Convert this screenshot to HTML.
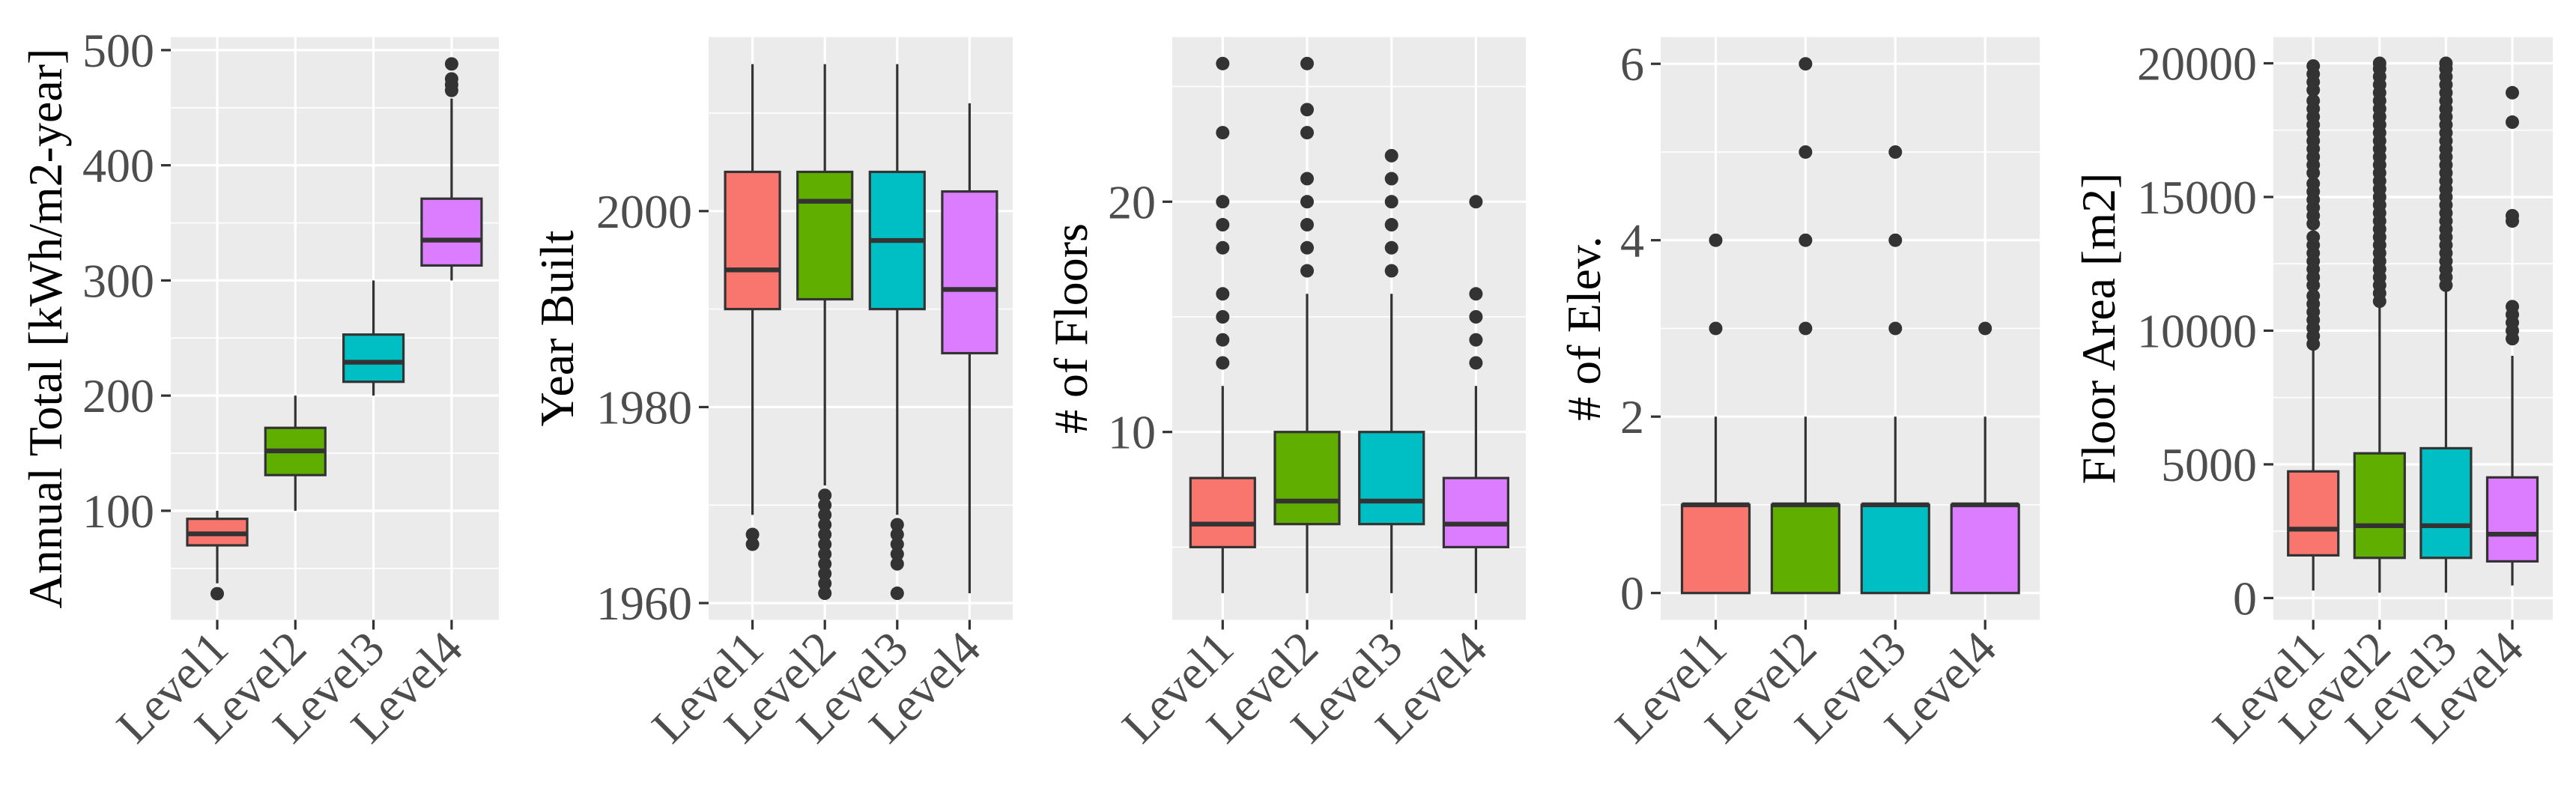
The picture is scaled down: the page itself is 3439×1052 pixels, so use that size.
<!DOCTYPE html>
<html><head><meta charset="utf-8">
<style>
html,body{margin:0;padding:0;background:#fff;}
svg{display:block;}
</style></head>
<body>
<svg id="chart" width="3439" height="1052" viewBox="0 0 3439 1052" xmlns="http://www.w3.org/2000/svg"></svg>
<script>
const categories = ["Level1","Level2","Level3","Level4"];
const fills = ["#F8766D","#5FAE00","#00BFC4","#DC7CFF"];

// Panel 1: Annual Total
const energyStats = [
  {lo:37, q1:70, med:80, q3:93, hi:100},
  {lo:100, q1:131, med:152, q3:172, hi:200},
  {lo:200, q1:212, med:229, q3:253, hi:300},
  {lo:300, q1:313, med:335, q3:371, hi:458}
];
const energyOutliers = [[28],[],[],[465,470,475,488]];
const energyTicks = [100,200,300,400,500];

// Panel 2: Year Built
const yearStats = [
  {lo:1969, q1:1990, med:1994, q3:2004, hi:2015},
  {lo:1972, q1:1991, med:2001, q3:2004, hi:2015},
  {lo:1969, q1:1990, med:1997, q3:2004, hi:2015},
  {lo:1961, q1:1985.5, med:1992, q3:2002, hi:2011}
];
const yearOutliers = [[1966,1967],[1961,1962,1963,1964,1965,1966,1967,1968,1969,1970,1971],[1961,1964,1965,1966,1967,1968],[]];
const yearTicks = [1960,1980,2000];

// Panel 3: Floors
const floorStats = [
  {lo:3, q1:5, med:6, q3:8, hi:12},
  {lo:3, q1:6, med:7, q3:10, hi:16},
  {lo:3, q1:6, med:7, q3:10, hi:16},
  {lo:3, q1:5, med:6, q3:8, hi:12}
];
const floorOutliers = [[13,14,15,16,18,19,20,23,26],[17,18,19,20,21,23,24,26],[17,18,19,20,21,22],[13,14,15,16,20]];
const floorTicks = [10,20];

// Panel 4: Elevators
const elevStats = [
  {lo:0, q1:0, med:1, q3:1, hi:2},
  {lo:0, q1:0, med:1, q3:1, hi:2},
  {lo:0, q1:0, med:1, q3:1, hi:2},
  {lo:0, q1:0, med:1, q3:1, hi:2}
];
const elevOutliers = [[3,4],[3,4,5,6],[3,4,5],[3]];
const elevTicks = [0,2,4,6];

// Panel 5: Floor Area
const areaStats = [
  {lo:281, q1:1597, med:2575, q3:4737, hi:9400},
  {lo:200, q1:1503, med:2706, q3:5413, hi:11090},
  {lo:200, q1:1503, med:2706, q3:5603, hi:11654},
  {lo:469, q1:1372, med:2387, q3:4512, hi:9060}
];
const areaOutliers = [
  [9500,9800,10100,10400,10700,11000,11300,11700,12000,12300,12600,12900,13200,13500,14000,14300,14600,14900,15200,15500,15900,16200,16500,16800,17100,17400,17700,18000,18300,18600,19000,19300,19600,19900],
  [11100,11400,11700,12000,12300,12600,12900,13200,13500,13800,14100,14400,14700,15000,15300,15600,15900,16200,16500,16800,17100,17400,17700,18000,18300,18600,18900,19200,19500,19800,20000],
  [11700,12000,12300,12600,12900,13200,13500,13800,14100,14400,14700,15000,15300,15600,15900,16200,16500,16800,17100,17400,17700,18000,18300,18600,18900,19200,19500,19800,20000],
  [9700,10000,10300,10600,10900,14100,14300,17800,18900]
];
const areaTicks = [0,5000,10000,15000,20000];

const panels = [
  {name:"annual-total", title:"Annual Total [kWh/m2-year]", stats:energyStats, out:energyOutliers, ticks:energyTicks,
   minor:[50,150,250,350,450], x0:228, x1:666, v0:100, p0:681.9, v1:500, p1:66.9, cx:290, step:104.3, bw:80, tx:60},
  {name:"year-built", title:"Year Built", stats:yearStats, out:yearOutliers, ticks:yearTicks,
   minor:[1970,1990,2010], x0:946, x1:1352, v0:1960, p0:805.1, v1:2000, p1:281.8, cx:1004.6, step:96.6, bw:73, tx:743},
  {name:"num-floors", title:"# of Floors", stats:floorStats, out:floorOutliers, ticks:floorTicks,
   minor:[5,15,25], x0:1565, x1:2037, v0:10, p0:576.7, v1:20, p1:269.3, cx:1632.3, step:112.7, bw:86, tx:1429},
  {name:"num-elevators", title:"# of Elev.", stats:elevStats, out:elevOutliers, ticks:elevTicks,
   minor:[1,3,5], x0:2217, x1:2723, v0:0, p0:791.7, v1:6, p1:85.2, cx:2290.5, step:119.9, bw:90, tx:2114},
  {name:"floor-area", title:"Floor Area [m2]", stats:areaStats, out:areaOutliers, ticks:areaTicks,
   minor:[2500,7500,12500,17500], x0:3035, x1:3408, v0:0, p0:798.4, v1:20000, p1:84.5, cx:3088.2, step:88.6, bw:67, tx:2801}
];
const TOP = 49.5, BOT = 827.5;
const NS = "http://www.w3.org/2000/svg";
const svg = document.getElementById("chart");
function mk(tag, attrs, parent){
  const e = document.createElementNS(NS, tag);
  for (const k in attrs) e.setAttribute(k, attrs[k]);
  (parent||svg).appendChild(e);
  return e;
}
panels.forEach(function(P){
  const g = mk("g", {});
  
  
  const y = v => P.p0 + (v - P.v0) * (P.p1 - P.p0) / (P.v1 - P.v0);
  const xc = i => P.cx + i * P.step;
  const bg = mk("rect", {x:P.x0, y:TOP, width:P.x1-P.x0, height:BOT-TOP, fill:"#EBEBEB"}, g);
  
  
  P.minor.forEach(function(v){
    const l = mk("line", {x1:P.x0, x2:P.x1, y1:y(v), y2:y(v), stroke:"#fff", "stroke-width":1.6}, g);
    
    
  });
  P.ticks.forEach(function(v){
    const l = mk("line", {x1:P.x0, x2:P.x1, y1:y(v), y2:y(v), stroke:"#fff", "stroke-width":3.2}, g);
    
    
    const t = mk("line", {x1:P.x0-13, x2:P.x0, y1:y(v), y2:y(v), stroke:"#333", "stroke-width":3.2}, g);
    
    
    const lab = mk("text", {x:P.x0-22, y:y(v)+22, "text-anchor":"end", "font-family":"Liberation Serif, serif", "font-size":64, fill:"#4D4D4D"}, g);
    lab.textContent = v;
    
    
  });
  categories.forEach(function(c, i){
    const l = mk("line", {x1:xc(i), x2:xc(i), y1:TOP, y2:BOT, stroke:"#fff", "stroke-width":3.2}, g);
    
    
    const t = mk("line", {x1:xc(i), x2:xc(i), y1:BOT, y2:BOT+13, stroke:"#333", "stroke-width":3.2}, g);
    
    
    const lab = mk("text", {x:0, y:0, "text-anchor":"end", "font-family":"Liberation Serif, serif", "font-size":64, fill:"#4D4D4D",
      transform:"translate(" + (xc(i)+18) + "," + (BOT+42) + ") rotate(-45)"}, g);
    lab.textContent = c;
    
    
  });
  P.stats.forEach(function(s, i){
    const x = xc(i), hw = P.bw/2;
    const w1 = mk("line", {x1:x, x2:x, y1:y(s.hi), y2:y(s.q3), stroke:"#333", "stroke-width":3.2}, g);
    
    
    const w2 = mk("line", {x1:x, x2:x, y1:y(s.q1), y2:y(s.lo), stroke:"#333", "stroke-width":3.2}, g);
    
    
    const b = mk("rect", {x:x-hw, y:y(s.q3), width:P.bw, height:Math.max(0.1, y(s.q1)-y(s.q3)), fill:fills[i], stroke:"#333", "stroke-width":3.2}, g);
    
    
    const m = mk("line", {x1:x-hw, x2:x+hw, y1:y(s.med), y2:y(s.med), stroke:"#333", "stroke-width":6.4}, g);
    
    
    P.out[i].forEach(function(v){
      const o = mk("circle", {cx:x, cy:y(v), r:9, fill:"#333"}, g);
      
      
    });
  });
  const tt = mk("text", {x:0, y:0, "text-anchor":"middle", "font-family":"Liberation Serif, serif", "font-size":64, fill:"#000",
    transform:"translate(" + (P.tx+22) + "," + ((TOP+BOT)/2) + ") rotate(-90)"}, g);
  tt.textContent = P.title;
  
  
});
</script>
</body></html>
